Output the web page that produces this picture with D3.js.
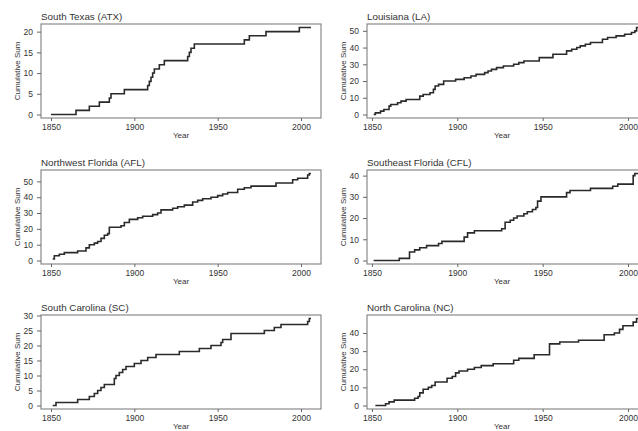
<!doctype html>
<html>
<head>
<meta charset="utf-8">
<style>
  body { margin: 0; background: #fff; }
  svg text { font-family: "Liberation Sans", Arial, Helvetica, sans-serif; fill: #333; }
  .tick line { stroke: #666; }
  .tick text { font-size: 8.5px; }
</style>
</head>
<body>
<div id="vis"></div>
<script src="https://d3js.org/d3.v7.min.js"></script>
<script>
// panel titles, in reading order
var titles = ['South Texas (ATX)', 'Louisiana (LA)', 'Northwest Florida (AFL)',
              'Southeast Florida (CFL)', 'South Carolina (SC)', 'North Carolina (NC)'];

// cumulative hurricane counts (year, running sum)
var atxYears = [1850,1865,1873,1879,1885,1886,1894,1908,1909,1910,1911,1912,1915,1918,1932,1933,1934,1936,1966,1969,1979,1999,2006];
var atxSums  = [0,1,2,3,4,5,6,7,8,9,10,11,12,13,14,15,16,17,18,19,20,21,21];

var laYears = [1851,1852,1855,1857,1860,1861,1865,1867,1870,1878,1880,1884,1886,1887,1889,1892,1899,1904,1908,1911,1916,1918,1920,1923,1927,1933,1936,1939,1948,1956,1964,1967,1970,1972,1975,1978,1985,1988,1993,1998,2002,2004,2005,2006];
var laSums  = [0,1,2,3,5,6,7,8,9,11,12,13,15,17,18,20,21,22,23,24,25,26,27,28,29,30,31,32,34,36,38,39,40,41,42,43,45,46,47,48,49,50,52,52];

var aflYears = [1851,1852,1855,1858,1866,1871,1873,1876,1878,1880,1882,1884,1885,1892,1894,1897,1902,1905,1911,1914,1916,1923,1926,1930,1935,1938,1941,1946,1950,1953,1956,1962,1966,1970,1985,1995,1998,2004,2005,2006];
var aflSums  = [1,3,4,5,6,8,10,11,12,14,16,17,21,22,24,26,27,28,29,30,32,33,34,35,37,38,39,40,41,42,43,45,46,47,49,51,52,54,55,55];

var cflYears = [1851,1866,1872,1875,1878,1882,1889,1891,1904,1906,1910,1926,1928,1931,1933,1935,1939,1941,1944,1946,1947,1949,1964,1966,1978,1991,1994,2003,2004,2006];
var cflSums  = [0,1,4,5,6,7,8,9,11,13,14,15,18,19,20,21,22,23,24,25,28,30,32,33,34,35,36,40,41,41];

var scYears = [1851,1853,1866,1873,1876,1878,1880,1882,1888,1889,1891,1893,1895,1900,1904,1908,1913,1927,1939,1946,1952,1953,1958,1978,1984,1988,2004,2005,2006];
var scSums  = [0,1,2,3,4,5,6,7,9,10,11,12,13,14,15,16,17,18,19,20,21,22,24,25,26,27,28,29,29];

var ncYears = [1852,1858,1860,1863,1875,1877,1878,1880,1883,1885,1887,1894,1897,1899,1901,1906,1910,1914,1921,1933,1936,1945,1954,1960,1971,1986,1992,1995,1997,2003,2005,2006];
var ncSums  = [0,1,2,3,4,5,7,9,10,11,13,15,16,18,19,20,21,22,23,25,26,28,34,35,36,39,40,42,44,46,48,48];

var years = [atxYears, laYears, aflYears, cflYears, scYears, ncYears];
var sums  = [atxSums, laSums, aflSums, cflSums, scSums, ncSums];
var yTicks = [[0,5,10,15,20], [0,10,20,30,40,50], [0,10,20,30,40,50],
              [0,10,20,30,40], [0,5,10,15,20,25,30], [0,10,20,30,40]];
var xTicks = [1850, 1900, 1950, 2000];

var W = 638, H = 431;
var svg = d3.select('#vis').append('svg').attr('width', W).attr('height', H);

var rowTop = [24, 170, 315], boxH = 94;
// left column and right column boxes (right one runs off the picture)
var cols = [
  {x0: 41,  x1: 321, dom: [1844, 2012], ylab: 17,  year: 181},
  {x0: 367, x1: 640, dom: [1847.1, 2007], ylab: 343, year: 502}
];

titles.forEach(function(t, i){
  var c = cols[i % 2], top = rowTop[Math.floor(i / 2)], bottom = top + boxH;
  var ys = years[i], vs = sums[i];
  var data = ys.map(function(y, j){ return {year: y, sum: vs[j]}; });

  var maxV = d3.max(vs), pad = maxV * 0.04;
  var x = d3.scaleLinear().domain(c.dom).range([c.x0, c.x1]);
  var y = d3.scaleLinear().domain([-pad, maxV + pad]).range([bottom, top]);

  var g = svg.append('g');

  g.append('clipPath').attr('id', 'clip' + i)
    .append('rect').attr('x', c.x0).attr('y', top).attr('width', c.x1 - c.x0).attr('height', boxH);

  var line = d3.line().curve(d3.curveStepAfter)
    .x(function(d){ return x(d.year); })
    .y(function(d){ return y(d.sum); });

  g.append('path').datum(data).attr('d', line)
    .attr('clip-path', 'url(#clip' + i + ')')
    .style('fill', 'none').style('stroke', '#2a2a2a').style('stroke-width', 1.6);

  g.append('rect').attr('x', c.x0).attr('y', top).attr('width', c.x1 - c.x0).attr('height', boxH)
    .style('fill', 'none').style('stroke', '#8a8a8a').style('stroke-width', 1.2);

  var xa = g.append('g').attr('transform', 'translate(0,' + bottom + ')')
    .call(d3.axisBottom(x).tickValues(xTicks).tickFormat(d3.format('d')).tickSize(3).tickPadding(3));
  xa.select('.domain').remove();

  var ya = g.append('g').attr('transform', 'translate(' + c.x0 + ',0)')
    .call(d3.axisLeft(y).tickValues(yTicks[i]).tickSize(4).tickPadding(4));
  ya.select('.domain').remove();

  g.append('text').attr('x', c.x0).attr('y', top - 4.5).text(t).style('font-size', '9.8px');

  g.append('text').attr('x', c.year).attr('y', bottom + 19.5).text('Year')
    .style('font-size', '8px').style('text-anchor', 'middle');

  g.append('text').attr('transform', 'translate(' + c.ylab + ',' + (top + boxH / 2) + ') rotate(-90)')
    .attr('dy', '0.35em').text('Cumulative Sum')
    .style('font-size', '8px').style('text-anchor', 'middle');
});
</script>
</body>
</html>
